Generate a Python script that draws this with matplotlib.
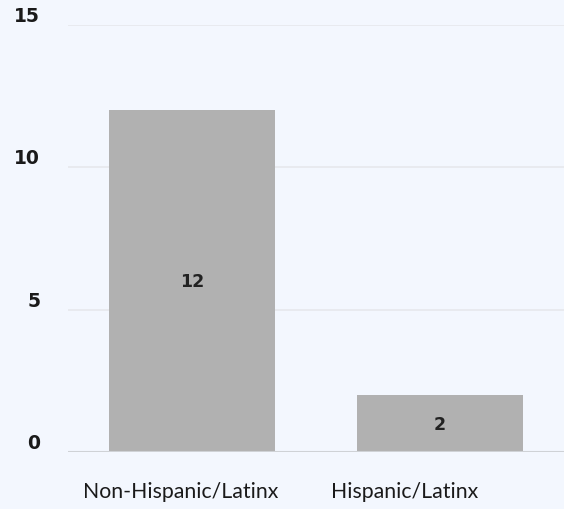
import matplotlib
matplotlib.use('Agg')
import matplotlib.pyplot as plt
import numpy as np

# Datos del gráfico
categorias = ['Non-Hispanic/Latinx', 'Hispanic/Latinx']
valores = [12, 2]
yticks = [0, 5, 10, 15]

fondo = '#F3F7FE'
color_barra = '#B1B1B1'
ancho = 0.667

plt.rcParams['font.family'] = ['Lato', 'DejaVu Sans']

fig = plt.figure(figsize=(5.64, 5.10), dpi=100)
fig.patch.set_facecolor(fondo)
ax = fig.add_axes([0.1206, 0.1118, 0.8794, 0.8372])
ax.set_facecolor(fondo)

x = np.arange(len(categorias))
barras = ax.bar(x, valores, width=ancho, color=color_barra, zorder=2)

for b, v in zip(barras, valores):
    ax.text(b.get_x() + b.get_width() / 2, v / 2, str(v), ha='center', va='center',
            fontsize=12.5, fontweight='bold', color='#222222', zorder=3,
            family='DejaVu Sans')

ax.set_xlim(-0.5, 1.5)
ax.set_ylim(0, 15)
ax.set_yticks(yticks)
ax.set_yticklabels([str(t) for t in yticks], fontsize=13.5, fontweight='bold',
                   color='#1a1a1a', va='bottom', family='DejaVu Sans')

# etiquetas alineadas a la izquierda, un poco antes del borde de cada barra
ax.set_xticks(x - ancho / 2 - 0.105)
ax.set_xticklabels(categorias, fontsize=15.3, color='#1a1a1a', ha='left')

ax.tick_params(axis='y', length=0, pad=20)
ax.tick_params(axis='x', length=0, pad=21)

ax.grid(axis='y', color='#E6E8EC', linewidth=1.2, zorder=1)
ax.xaxis.grid(False)
ax.axhline(0, color='#CFD2D6', linewidth=1.5, zorder=3)

for s in ax.spines.values():
    s.set_visible(False)

plt.savefig('out.png', dpi=100, facecolor=fondo)
